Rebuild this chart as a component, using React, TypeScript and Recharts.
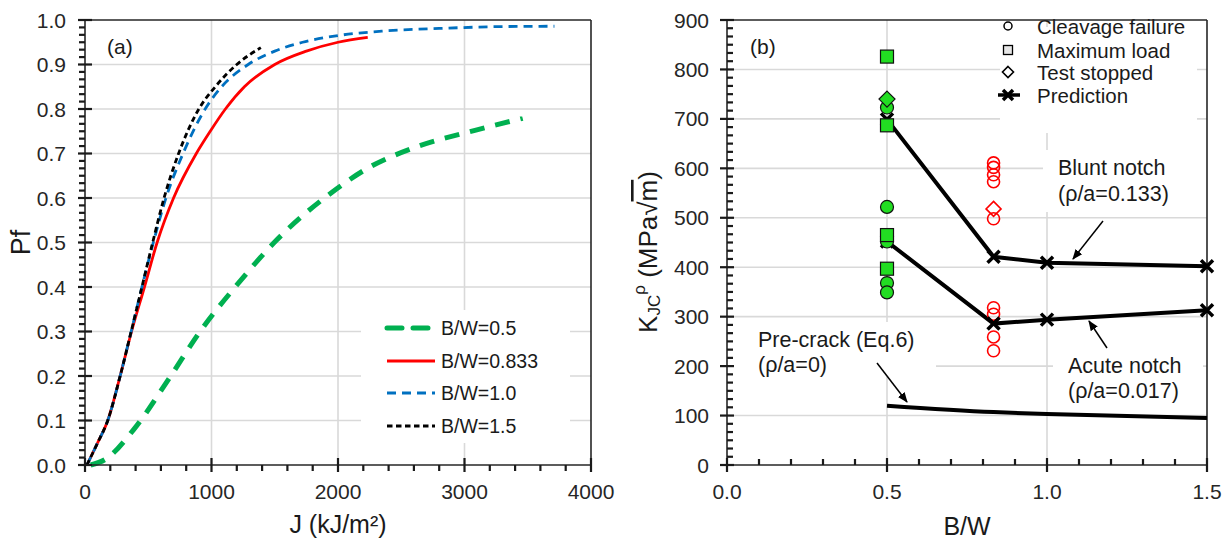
import React from "react";
import {
  CartesianGrid,
  ComposedChart,
  Customized,
  Line,
  ReferenceLine,
  Scatter,
  XAxis,
  YAxis,
} from "recharts";

const FONT = '"Liberation Sans", Arial, Helvetica, sans-serif';
const INK = "#262626";
const GRID = "#d9d9d9";

// ---- (a) failure probability vs J ----
const jMajor = [0, 1000, 2000, 3000, 4000];
const pfMajor = [0, 0.1, 0.2, 0.3, 0.4, 0.5, 0.6, 0.7, 0.8, 0.9, 1.0];

const jBW05 = [45, 163, 383, 666, 917, 1199, 1513, 1953, 2235, 2612, 3083, 3460];
const pfBW05 = [0, 0.013, 0.079, 0.195, 0.303, 0.404, 0.505, 0.613, 0.667, 0.714, 0.752, 0.779];

const jBW0833 = [15, 100, 180, 278, 368, 470, 570, 700, 880, 990, 1110, 1260, 1500, 1750, 2000, 2235];
const pfBW0833 = [0, 0.05, 0.1, 0.2, 0.3, 0.4, 0.5, 0.6, 0.7, 0.75, 0.8, 0.85, 0.9, 0.93, 0.95, 0.961];

const jBW10 = [15, 100, 180, 278, 365, 450, 540, 640, 775, 950, 1080, 1290, 1500, 1720, 2000, 2350, 2800, 3250, 3711];
const pfBW10 = [0, 0.05, 0.1, 0.2, 0.3, 0.4, 0.5, 0.6, 0.7, 0.8, 0.85, 0.9, 0.93, 0.95, 0.965, 0.975, 0.981, 0.985, 0.986];

const jBW15 = [15, 100, 180, 278, 365, 450, 535, 625, 740, 900, 1030, 1200, 1390];
const pfBW15 = [0, 0.05, 0.1, 0.2, 0.3, 0.4, 0.5, 0.6, 0.7, 0.8, 0.85, 0.9, 0.938];

const seriesNamesA = ["B/W=0.5", "B/W=0.833", "B/W=1.0", "B/W=1.5"];

// ---- (b) K_JC vs B/W ----
const bwMajor = [0, 0.5, 1.0, 1.5];
const kMajor = [0, 100, 200, 300, 400, 500, 600, 700, 800, 900];

const bwPrediction = [0.5, 0.833, 1.0, 1.5];
const kBlunt = [699, 421, 409, 402];
const kAcute = [452, 286, 294, 313];
const bwPrecrack = [0.5, 0.833, 1.0, 1.5];
const kPrecrack = [120, 107, 103, 95];

const bwGreen = 0.5;
const kGreenSquare = [826, 687, 465, 397];
const kGreenCircle = [723, 522, 452, 368, 349];
const kGreenDiamond = [740];

const bwRed = 0.833;
const kRedCircle = [611, 602, 587, 573, 498, 318, 305, 259, 231];
const kRedDiamond = [518];

const legendNamesB = ["Cleavage failure", "Maximum load", "Test stopped", "Prediction"];

// ---- helpers ----
const pairsA = (js: number[], ps: number[]) => js.map((j, i) => ({ j, pf: ps[i] }));
const pairsB = (xs: number[], ys: number[]) => xs.map((x, i) => ({ x, y: ys[i] }));
const column = (x: number, ys: number[]) => ys.map((y) => ({ x, y }));

function minorTicks(major: number[], parts: number) {
  const out: number[] = [];
  for (let i = 0; i < major.length - 1; i++) {
    for (let k = 1; k < parts; k++) out.push(major[i] + ((major[i + 1] - major[i]) * k) / parts);
  }
  return out;
}

const styleA = [
  { color: "#00b050", width: 5, dash: "15 11" },
  { color: "#ff0000", width: 2.8, dash: undefined },
  { color: "#0070c0", width: 2.8, dash: "9 6" },
  { color: "#000000", width: 2.8, dash: "5.5 3.5" },
];
const dataA = [
  pairsA(jBW05, pfBW05),
  pairsA(jBW0833, pfBW0833),
  pairsA(jBW10, pfBW10),
  pairsA(jBW15, pfBW15),
];

const axisStroke = { stroke: INK, strokeWidth: 1.6 };

function TickLabel(props: any) {
  const { x, y, payload, fmt, dx = 0, dy = 0, anchor } = props;
  return (
    <text x={Number(x) + dx} y={Number(y) + dy} textAnchor={anchor} dominantBaseline="central" fontSize={21} fill={INK} fontFamily={FONT}>
      {fmt(Number(payload.value))}
    </text>
  );
}

// tick marks placed through the chart scales (one scatter point per tick, sitting on the axis)
const vTick = (inLen: number, outLen: number) => (p: any) => (
  <rect x={p.cx - 1.1} y={p.cy - inLen} width={2.2} height={inLen + outLen} fill="#1a1a1a" stroke="none" />
);
const hTick = (inLen: number, outLen: number) => (p: any) => (
  <rect x={p.cx - outLen} y={p.cy - 1.1} width={inLen + outLen} height={2.2} fill="#1a1a1a" stroke="none" />
);

const txt = { fontFamily: FONT, fill: "#1a1a1a" };

function DecorA() {
  const rows = [328, 361, 393, 426];
  return (
    <g>
      <rect x={361} y={310} width={209} height={133} fill="#fff" />
      {seriesNamesA.map((name, i) => (
        <g key={name}>
          <line
            x1={387}
            x2={435}
            y1={rows[i]}
            y2={rows[i]}
            stroke={styleA[i].color}
            strokeWidth={styleA[i].width}
            strokeDasharray={styleA[i].dash}
            strokeLinecap={i === 0 ? "round" : "butt"}
          />
          <text x={441} y={rows[i]} dominantBaseline="central" fontSize={19.5} {...txt}>
            {name}
          </text>
        </g>
      ))}
      <text x={107} y={46} dominantBaseline="central" fontSize={21} {...txt}>
        (a)
      </text>
    </g>
  );
}

function XMark({ cx, cy, r = 6, w = 3.5 }: any) {
  if (cx == null || cy == null) return null;
  return (
    <path d={`M${cx - r},${cy - r}L${cx + r},${cy + r}M${cx - r},${cy + r}L${cx + r},${cy - r}`} stroke="#000" strokeWidth={w} fill="none" />
  );
}

const greenSquare = (p: any) => <rect x={p.cx - 6.5} y={p.cy - 6.5} width={13} height={13} fill="#22dd22" stroke="#111" strokeWidth={1.2} />;
const greenCircle = (p: any) => <circle cx={p.cx} cy={p.cy} r={6.5} fill="#22dd22" stroke="#111" strokeWidth={1.2} />;
const greenDiamond = (p: any) => (
  <path d={`M${p.cx},${p.cy - 8}L${p.cx + 8},${p.cy}L${p.cx},${p.cy + 8}L${p.cx - 8},${p.cy}Z`} fill="#22dd22" stroke="#111" strokeWidth={1.2} />
);
const redCircle = (p: any) => <circle cx={p.cx} cy={p.cy} r={6} fill="none" stroke="#ff0000" strokeWidth={1.6} />;
const redDiamond = (p: any) => (
  <path d={`M${p.cx},${p.cy - 7.5}L${p.cx + 7.5},${p.cy}L${p.cx},${p.cy + 7.5}L${p.cx - 7.5},${p.cy}Z`} fill="none" stroke="#ff0000" strokeWidth={1.6} />
);

function DecorB() {
  const rows = [26, 50, 72, 95];
  const sx = 388;
  const tx = 417;
  const arrows = [
    [483, 221, 453, 259],
    [487, 348, 469, 321],
    [257, 363, 287, 402],
  ];
  return (
    <g>
      <defs>
        <marker id="arrowHead" viewBox="0 0 10 10" refX="9" refY="5" markerWidth="7" markerHeight="7" orient="auto">
          <path d="M0,1 L10,5 L0,9 z" fill="#000" />
        </marker>
      </defs>
      {/* label backgrounds that break the grid */}
      <rect x={380} y={27} width={197} height={106} fill="#fff" />
      <rect x={423} y={150} width={164} height={62} fill="#fff" />
      <rect x={433} y={350} width={150} height={55} fill="#fff" />
      <rect x={108} y={322} width={208} height={55} fill="#fff" />

      {/* legend */}
      <circle cx={sx} cy={rows[0]} r={4} fill="none" stroke="#000" strokeWidth={1.5} />
      <rect x={sx - 4.5} y={rows[1] - 4.5} width={9} height={9} fill="#e6e6e6" stroke="#000" strokeWidth={1.3} />
      <path d={`M${sx},${rows[2] - 5.5}L${sx + 5.5},${rows[2]}L${sx},${rows[2] + 5.5}L${sx - 5.5},${rows[2]}Z`} fill="none" stroke="#000" strokeWidth={1.6} />
      <line x1={sx - 10} x2={sx + 12} y1={rows[3]} y2={rows[3]} stroke="#000" strokeWidth={3.5} />
      <XMark cx={sx} cy={rows[3]} r={5} w={3.5} />
      {legendNamesB.map((name, i) => (
        <text key={name} x={tx} y={rows[i]} dominantBaseline="central" fontSize={20.5} {...txt}>
          {name}
        </text>
      ))}

      {/* annotations */}
      <text x={130} y={46} dominantBaseline="central" fontSize={21} {...txt}>
        (b)
      </text>
      <text x={438} y={168} dominantBaseline="central" fontSize={21.5} {...txt}>
        Blunt notch
      </text>
      <text x={438} y={194} dominantBaseline="central" fontSize={21.5} {...txt}>
        (ρ/a=0.133)
      </text>
      <text x={448} y={366} dominantBaseline="central" fontSize={21.5} {...txt}>
        Acute notch
      </text>
      <text x={448} y={391} dominantBaseline="central" fontSize={21.5} {...txt}>
        (ρ/a=0.017)
      </text>
      <text x={138} y={340} dominantBaseline="central" fontSize={21.5} {...txt}>
        Pre-crack (Eq.6)
      </text>
      <text x={138} y={365} dominantBaseline="central" fontSize={21.5} {...txt}>
        (ρ/a=0)
      </text>
      {arrows.map(([x1, y1, x2, y2], i) => (
        <line key={i} x1={x1} y1={y1} x2={x2} y2={y2} stroke="#000" strokeWidth={1.5} markerEnd="url(#arrowHead)" />
      ))}
    </g>
  );
}

function PanelA() {
  return (
    <ComposedChart width={620} height={539} margin={{ top: 20, right: 29, bottom: 0, left: 0 }}>
      <CartesianGrid
        horizontalValues={pfMajor.slice(1, -1)}
        verticalValues={jMajor.slice(1, -1)}
        stroke={GRID}
        strokeWidth={1.6}
      />
      <Customized component={<DecorA />} />
      <XAxis
        dataKey="j"
        type="number"
        domain={[0, 4000]}
        ticks={jMajor}
        interval={0}
        height={74}
        tickSize={0}
        tickMargin={0}
        tickLine={false}
        axisLine={axisStroke}
        tick={<TickLabel dy={26} anchor="middle" fmt={(v: number) => String(v)} />}
        label={{
          content: (p: any) => (
            <text x={p.viewBox.x + p.viewBox.width / 2} y={p.viewBox.y + 59} textAnchor="middle" dominantBaseline="central" fontSize={25} {...txt}>
              J (kJ/m²)
            </text>
          ),
        }}
      />
      <YAxis
        type="number"
        domain={[0, 1]}
        ticks={pfMajor}
        interval={0}
        width={85}
        tickSize={0}
        tickMargin={0}
        tickLine={false}
        axisLine={axisStroke}
        tick={<TickLabel dx={-19} anchor="end" fmt={(v: number) => v.toFixed(1)} />}
        label={{
          content: (p: any) => {
            const cy = p.viewBox.y + p.viewBox.height / 2;
            return (
              <text x={21} y={cy} textAnchor="middle" dominantBaseline="central" fontSize={27} transform={`rotate(-90, 21, ${cy})`} {...txt}>
                Pf
              </text>
            );
          },
        }}
      />
      <ReferenceLine y={1} stroke={INK} strokeWidth={1.6} />
      <ReferenceLine x={4000} stroke={INK} strokeWidth={1.6} />
      <Scatter name="x minor ticks" data={minorTicks(jMajor, 5).map((j) => ({ j, pf: 0 }))} dataKey="pf" shape={vTick(0, 6)} isAnimationActive={false} legendType="none" />
      <Scatter name="x major ticks" data={jMajor.map((j) => ({ j, pf: 0 }))} dataKey="pf" shape={vTick(7, 7)} isAnimationActive={false} legendType="none" />
      <Scatter name="y minor ticks" data={minorTicks(pfMajor, 6).map((pf) => ({ j: 0, pf }))} dataKey="pf" shape={hTick(0, 6)} isAnimationActive={false} legendType="none" />
      <Scatter name="y major ticks" data={pfMajor.map((pf) => ({ j: 0, pf }))} dataKey="pf" shape={hTick(7, 7)} isAnimationActive={false} legendType="none" />
      {dataA.map((d, i) => (
        <Line
          key={seriesNamesA[i]}
          data={d}
          dataKey="pf"
          name={seriesNamesA[i]}
          type="monotone"
          stroke={styleA[i].color}
          strokeWidth={styleA[i].width}
          strokeDasharray={styleA[i].dash}
          dot={false}
          isAnimationActive={false}
        />
      ))}
    </ComposedChart>
  );
}

function PanelB() {
  return (
    <ComposedChart width={611} height={539} margin={{ top: 20, right: 24, bottom: 0, left: 0 }}>
      <CartesianGrid
        horizontalValues={kMajor.slice(1, -1)}
        verticalValues={bwMajor.slice(1, -1)}
        stroke={GRID}
        strokeWidth={1.6}
      />
      <Customized component={<DecorB />} />
      <XAxis
        dataKey="x"
        type="number"
        domain={[0, 1.5]}
        ticks={bwMajor}
        interval={0}
        height={74}
        tickSize={0}
        tickMargin={0}
        tickLine={false}
        axisLine={axisStroke}
        tick={<TickLabel dy={26} anchor="middle" fmt={(v: number) => v.toFixed(1)} />}
        label={{
          content: (p: any) => (
            <text x={p.viewBox.x + p.viewBox.width / 2} y={p.viewBox.y + 61} textAnchor="middle" dominantBaseline="central" fontSize={25} {...txt}>
              B/W
            </text>
          ),
        }}
      />
      <YAxis
        type="number"
        domain={[0, 900]}
        ticks={kMajor}
        interval={0}
        width={107}
        tickSize={0}
        tickMargin={0}
        tickLine={false}
        axisLine={axisStroke}
        tick={<TickLabel dx={-18} anchor="end" fmt={(v: number) => String(v)} />}
        label={{
          content: () => {
            const cy = 252;
            return (
              <text x={28} y={cy} textAnchor="middle" dominantBaseline="central" fontSize={26} transform={`rotate(-90, 28, ${cy})`} {...txt}>
                <tspan>K</tspan>
                <tspan fontSize={17} dy={6}>JC</tspan>
                <tspan fontSize={17} dy={-15}>ρ</tspan>
                <tspan dy={9}> (MPa√</tspan>
                <tspan textDecoration="overline">m</tspan>
                <tspan>)</tspan>
              </text>
            );
          },
        }}
      />
      <ReferenceLine y={900} stroke={INK} strokeWidth={1.6} />
      <ReferenceLine x={1.5} stroke={INK} strokeWidth={1.6} />
      <Scatter name="y minor ticks" data={column(0, minorTicks(kMajor, 6))} dataKey="y" shape={hTick(6, 0)} isAnimationActive={false} legendType="none" />
      <Scatter name="y major ticks" data={column(0, kMajor)} dataKey="y" shape={hTick(7, 7)} isAnimationActive={false} legendType="none" />
      <Scatter name="x minor ticks" data={minorTicks(bwMajor, 5).map((x) => ({ x, y: 0 }))} dataKey="y" shape={vTick(6, 0)} isAnimationActive={false} legendType="none" />
      <Scatter name="x major ticks" data={bwMajor.map((x) => ({ x, y: 0 }))} dataKey="y" shape={vTick(7, 7)} isAnimationActive={false} legendType="none" />

      <Scatter data={column(bwRed, kRedCircle)} dataKey="y" name="red cleavage" shape={redCircle} isAnimationActive={false} />
      <Scatter data={column(bwRed, kRedDiamond)} dataKey="y" name="red stopped" shape={redDiamond} isAnimationActive={false} />

      <Line data={pairsB(bwPrecrack, kPrecrack)} dataKey="y" name="Pre-crack" type="monotone" stroke="#000" strokeWidth={4} dot={false} isAnimationActive={false} />
      <Line data={pairsB(bwPrediction, kAcute)} dataKey="y" name="Acute notch" type="linear" stroke="#000" strokeWidth={4} dot={(p: any) => <XMark key={`a${p.index}`} cx={p.cx} cy={p.cy} />} isAnimationActive={false} />
      <Line data={pairsB(bwPrediction, kBlunt)} dataKey="y" name="Blunt notch" type="linear" stroke="#000" strokeWidth={4} dot={(p: any) => <XMark key={`b${p.index}`} cx={p.cx} cy={p.cy} />} isAnimationActive={false} />

      <Scatter data={column(bwGreen, kGreenCircle)} dataKey="y" name="green cleavage" shape={greenCircle} isAnimationActive={false} />
      <Scatter data={column(bwGreen, kGreenSquare)} dataKey="y" name="green max load" shape={greenSquare} isAnimationActive={false} />
      <Scatter data={column(bwGreen, kGreenDiamond)} dataKey="y" name="green stopped" shape={greenDiamond} isAnimationActive={false} />
    </ComposedChart>
  );
}

export default function App() {
  return (
    <div style={{ position: "absolute", left: 0, top: 0, width: 1231, height: 539, background: "#fff", fontFamily: FONT }}>
      <div style={{ position: "absolute", left: 0, top: 0 }}>
        <PanelA />
      </div>
      <div style={{ position: "absolute", left: 620, top: 0 }}>
        <PanelB />
      </div>
    </div>
  );
}
